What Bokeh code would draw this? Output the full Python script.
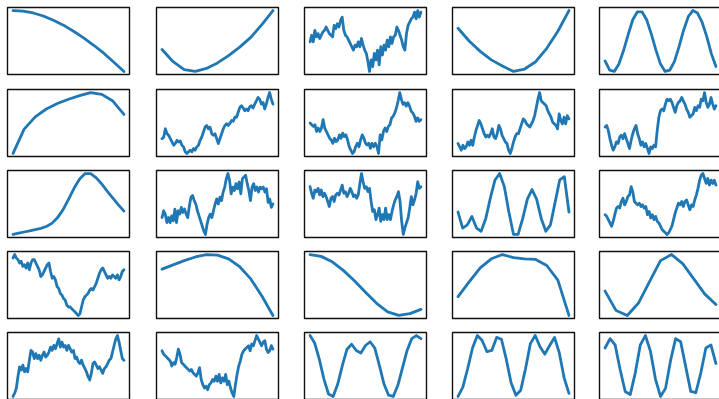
from bokeh.plotting import figure
from bokeh.layouts import column, row
from bokeh.models import Range1d
from bokeh.embed import file_html
from bokeh.resources import INLINE

# ---- data (heights, arbitrary units) ----
r0c0 = [1.0, 0.99, 0.96, 0.91, 0.84, 0.76, 0.66, 0.55, 0.43, 0.30, 0.15, 0.0]
r0c1 = [0.36, 0.16, 0.03, 0.0, 0.05, 0.14, 0.26, 0.40, 0.56, 0.77, 1.0]
r0c2 = [100, 120, 100, 135, 115, 125, 110, 120, 130, 135, 145, 135, 125, 120, 115, 150, 140, 155, 145,
        165, 175, 135, 120, 115, 105, 95, 85, 75, 90, 85, 100, 85, 110, 90, 75, 65, 40, 10, 45, 25, 65,
        45, 75, 30, 85, 60, 90, 75, 105, 85, 115, 95, 115, 120, 145, 135, 120, 105, 85, 75, 125, 150,
        160, 170, 175, 190, 170, 195, 175, 190]
r0c3 = [0.71, 0.50, 0.33, 0.19, 0.09, 0.0, 0.04, 0.16, 0.38, 0.66, 1.0]
r0c4 = [0.18, 0.03, 0.01, 0.13, 0.35, 0.61, 0.85, 0.98, 0.98, 0.85, 0.62, 0.36, 0.13, 0.01, 0.03,
        0.17, 0.41, 0.68, 0.90, 1.0, 0.96, 0.81, 0.58, 0.30, 0.09]

r1c0 = [0.0, 0.40, 0.60, 0.73, 0.82, 0.89, 0.95, 1.0, 0.97, 0.86, 0.64]
r1c1 = [50, 55, 80, 65, 60, 50, 40, 30, 35, 45, 40, 43, 30, 25, 10, 5, 10, 15, 10, 20, 15, 25, 30, 45,
        55, 70, 85, 90, 80, 85, 65, 60, 65, 50, 35, 50, 65, 80, 90, 95, 90, 97, 105, 103, 115, 115, 130,
        145, 150, 143, 135, 140, 135, 147, 150, 143, 155, 165, 175, 170, 155, 160, 140, 155, 175, 190,
        170, 155]
r1c2 = [100, 95, 90, 95, 75, 85, 75, 85, 110, 85, 75, 65, 55, 50, 40, 55, 45, 50, 65, 55, 70, 60, 65,
        50, 30, 20, 10, 15, 30, 40, 30, 50, 65, 55, 40, 35, 40, 25, 40, 30, 40, 30, 10, 65, 50, 75, 85,
        75, 90, 95, 115, 120, 130, 145, 165, 190, 170, 155, 160, 150, 160, 150, 135, 130, 120, 105, 115,
        105, 110]
r1c3 = [35, 25, 15, 30, 20, 25, 40, 30, 45, 30, 55, 75, 90, 105, 95, 80, 65, 55, 60, 55, 65, 80, 55, 50,
        65, 90, 80, 60, 50, 40, 35, 15, 5, 20, 40, 55, 65, 65, 80, 95, 110, 105, 95, 90, 85, 95, 105, 120,
        145, 170, 190, 165, 160, 155, 150, 135, 125, 115, 100, 95, 90, 80, 125, 105, 95, 115, 95, 120, 110]
r1c4 = [85, 90, 75, 50, 30, 15, 25, 40, 35, 55, 60, 50, 65, 50, 35, 20, 45, 65, 80, 90, 65, 50, 30, 40,
        25, 35, 20, 5, 25, 20, 30, 25, 75, 115, 135, 140, 135, 155, 170, 165, 170, 160, 145, 130, 150, 160,
        165, 175, 165, 155, 140, 130, 115, 120, 125, 145, 135, 150, 145, 170, 165, 190, 160, 145, 155, 175,
        155, 140, 150]

r2c0 = [0.0, 0.02, 0.04, 0.06, 0.08, 0.10, 0.13, 0.18, 0.27, 0.40, 0.57, 0.75, 0.90, 0.99, 0.99, 0.92,
        0.82, 0.70, 0.59, 0.48, 0.38]
r2c1 = [55, 75, 65, 40, 55, 40, 60, 45, 80, 40, 75, 65, 85, 70, 80, 65, 55, 90, 115, 120, 105, 95, 75, 60,
        45, 30, 15, 5, 35, 55, 65, 55, 75, 95, 110, 95, 115, 105, 130, 145, 170, 185, 165, 125, 145, 135,
        155, 140, 160, 125, 170, 175, 180, 155, 135, 105, 145, 155, 135, 145, 130, 145, 140, 145, 130, 140,
        100, 110, 85, 95]
r2c2 = [150, 130, 115, 140, 135, 145, 125, 140, 120, 130, 120, 105, 90, 115, 120, 105, 125, 130, 125, 140,
        155, 130, 135, 120, 130, 145, 135, 120, 125, 115, 125, 160, 190, 165, 145, 150, 135, 145, 105, 75,
        80, 50, 65, 85, 45, 65, 50, 85, 50, 65, 50, 75, 95, 110, 120, 135, 105, 45, 5, 25, 40, 55, 85, 120,
        95, 110, 130, 165, 145, 150]
r2c3 = [0.40, 0.15, 0.20, 0.33, 0.15, 0.10, 0.30, 0.62, 0.90, 1.0, 0.80, 0.40, 0.05, 0.05, 0.30, 0.60,
        0.75, 0.60, 0.30, 0.10, 0.20, 0.55, 0.90, 0.95, 0.40]
r2c4 = [65, 60, 50, 40, 30, 45, 65, 85, 90, 85, 105, 115, 95, 105, 120, 125, 150, 135, 105, 100, 95, 100,
        90, 95, 85, 90, 65, 75, 55, 65, 50, 60, 45, 40, 30, 20, 15, 10, 5, 10, 20, 30, 50, 70, 85, 100, 95,
        105, 90, 105, 110, 95, 80, 95, 90, 110, 125, 145, 170, 185, 190, 175, 160, 175, 155, 170, 160, 170,
        155]

r3c0 = [175, 185, 175, 170, 160, 165, 150, 155, 145, 160, 140, 160, 170, 170, 160, 150, 140, 120, 125, 135,
        145, 155, 160, 135, 115, 120, 110, 90, 85, 70, 65, 55, 50, 35, 30, 30, 25, 20, 15, 10, 5, 10, 30, 50,
        60, 65, 70, 80, 85, 80, 90, 100, 115, 130, 140, 145, 135, 125, 115, 120, 115, 125, 120, 115, 125,
        110, 120, 135, 140]
r3c1 = [0.76, 0.83, 0.90, 0.96, 1.0, 0.99, 0.93, 0.80, 0.60, 0.32, 0.0]
r3c2 = [1.0, 0.97, 0.88, 0.74, 0.57, 0.38, 0.20, 0.06, 0.0, 0.03, 0.10]
r3c3 = [0.31, 0.55, 0.78, 0.93, 1.0, 0.95, 0.93, 0.92, 0.82, 0.58, 0.0]
r3c4 = [0.40, 0.08, 0.0, 0.20, 0.55, 0.90, 1.0, 0.85, 0.60, 0.35, 0.18]

r4c0 = [6, 16, 31, 66, 96, 86, 101, 81, 91, 81, 116, 146, 141, 121, 136, 121, 131, 116, 131, 141, 126, 131,
        141, 156, 146, 161, 151, 166, 181, 156, 171, 156, 161, 146, 161, 151, 141, 146, 121, 126, 111, 106,
        116, 101, 91, 81, 66, 56, 76, 106, 111, 101, 91, 96, 86, 76, 91, 96, 106, 116, 121, 141, 161, 181,
        191, 171, 146, 121, 116]
r4c1 = [141, 131, 126, 121, 116, 111, 96, 106, 101, 121, 146, 131, 106, 101, 96, 91, 86, 81, 86, 76, 71, 66,
        76, 91, 56, 41, 31, 36, 26, 41, 46, 56, 51, 66, 51, 71, 46, 61, 51, 71, 41, 51, 31, 16, 6, 41, 71, 96,
        111, 131, 141, 146, 151, 156, 141, 161, 156, 171, 186, 176, 166, 156, 166, 171, 146, 136, 141, 156,
        146]
r4c2 = [1.0, 0.88, 0.62, 0.30, 0.06, 0.02, 0.22, 0.52, 0.78, 0.86, 0.76, 0.72, 0.84, 0.90, 0.80, 0.52,
        0.22, 0.04, 0.02, 0.20, 0.48, 0.76, 0.95, 1.0, 0.95]
r4c3 = [0.0, 0.15, 0.45, 0.78, 0.98, 0.90, 0.72, 0.74, 0.95, 0.92, 0.60, 0.22, 0.02, 0.10, 0.45, 0.85,
        0.98, 0.80, 0.68, 0.82, 0.95, 0.70, 0.30, 0.05]
r4c4 = [0.80, 0.95, 0.85, 0.45, 0.10, 0.05, 0.40, 0.85, 1.0, 0.75, 0.30, 0.02, 0.15, 0.60, 0.95, 0.90,
        0.50, 0.10, 0.08, 0.40, 0.80, 0.85, 0.55]

series = [
    [r0c0, r0c1, r0c2, r0c3, r0c4],
    [r1c0, r1c1, r1c2, r1c3, r1c4],
    [r2c0, r2c1, r2c2, r2c3, r2c4],
    [r3c0, r3c1, r3c2, r3c3, r3c4],
    [r4c0, r4c1, r4c2, r4c3, r4c4],
]

FRAME_W, FRAME_H = 122, 67
# (figure width, left border) per column; (figure height, top border) per row
col_specs = [(155, 7), (148, 1), (148, 1), (147, 1), (124, 1)]
row_specs = [(88, 7), (81, 1), (81, 1), (81, 1), (69, 1)]
LINE = "#1f77b4"


def panel(ys, cspec, rspec):
    w, bl = cspec
    h, bt = rspec
    n = len(ys)
    xs = list(range(n))
    ymin, ymax = min(ys), max(ys)
    dy = (ymax - ymin) * 0.05
    dx = (n - 1) * 0.05
    p = figure(width=w, height=h, output_backend="svg", toolbar_location=None,
               x_axis_location=None, y_axis_location=None,
               x_range=Range1d(-dx, n - 1 + dx), y_range=Range1d(ymin - dy, ymax + dy),
               min_border_left=bl, min_border_top=bt,
               min_border_right=w - FRAME_W - bl, min_border_bottom=h - FRAME_H - bt)
    p.grid.visible = False
    p.outline_line_color = "#111111"
    p.outline_line_width = 1.4
    p.background_fill_color = "white"
    p.border_fill_color = "white"
    p.line(xs, ys, line_color=LINE, line_width=2.8, line_cap="round", line_join="round")
    return p


rows = []
for i, rs in enumerate(series):
    figs = [panel(ys, col_specs[j], row_specs[i]) for j, ys in enumerate(rs)]
    rows.append(row(*figs))

layout = column(*rows, width=719, height=399, styles={"overflow": "hidden"})

open("out.html", "w").write(file_html(layout, INLINE))
